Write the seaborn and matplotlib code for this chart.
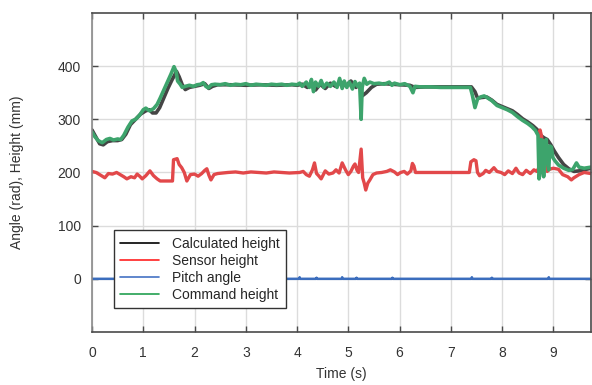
import numpy as np
import pandas as pd
import matplotlib
matplotlib.use("Agg")
import matplotlib.pyplot as plt
import seaborn as sns

# ---------------- data ----------------
cmd_t = [0.00,0.05,0.12,0.20,0.28,0.35,0.42,0.50,0.56,0.62,0.70,0.78,0.85,0.93,1.00,1.05,1.12,1.20,1.27,1.33,1.40,1.47,1.54,1.60,1.64,1.67,1.72,1.76,1.82,1.90,1.98,2.05,2.12,2.17,2.22,2.27,2.33,2.40,2.50,2.60,2.70,2.80,2.90,3.00,3.10,3.20,3.30,3.40,3.50,3.60,3.70,3.80,3.90,4.00,4.05,4.10,4.18,4.24,4.28,4.32,4.36,4.42,4.47,4.52,4.58,4.65,4.72,4.78,4.83,4.88,4.92,4.97,5.02,5.08,5.13,5.18,5.22,5.25,5.27,5.31,5.36,5.42,5.50,5.60,5.70,5.80,5.85,5.90,6.00,6.10,6.20,6.26,6.30,6.40,6.60,6.80,7.00,7.20,7.38,7.42,7.47,7.52,7.58,7.65,7.72,7.80,7.90,8.00,8.10,8.20,8.30,8.40,8.50,8.58,8.65,8.70,8.72,8.74,8.76,8.79,8.81,8.83,8.86,8.89,8.91,8.93,8.96,8.99,9.03,9.10,9.20,9.30,9.38,9.45,9.50,9.60,9.73]
cmd_v = [276,268,260,256,262,264,261,263,262,270,285,297,300,308,318,321,316,320,328,340,355,370,385,399,390,372,366,360,362,364,362,365,366,369,362,359,365,366,365,367,364,366,365,367,364,366,365,364,366,365,366,364,366,365,368,362,370,360,375,352,370,362,373,360,368,362,370,360,377,358,372,360,370,357,371,362,368,300,360,377,366,370,367,368,366,370,364,368,365,367,362,350,362,361,361,360,360,360,360,345,322,338,342,344,340,335,326,322,318,313,305,298,292,286,279,270,188,200,262,260,192,250,262,215,205,250,248,228,222,214,208,204,206,218,210,208,210]

calc_t = [0.00,0.08,0.15,0.22,0.30,0.40,0.50,0.58,0.66,0.75,0.85,0.95,1.05,1.12,1.18,1.25,1.32,1.40,1.48,1.56,1.65,1.70,1.76,1.82,1.90,2.00,2.10,2.20,2.28,2.35,2.45,2.70,3.00,3.30,3.60,3.90,4.00,4.10,4.20,4.30,4.36,4.45,4.55,4.65,4.75,4.85,4.95,5.05,5.15,5.22,5.27,5.35,5.45,5.55,5.70,5.85,6.00,6.20,6.30,6.50,7.40,7.47,7.52,7.60,7.70,7.80,7.90,8.00,8.10,8.20,8.30,8.40,8.50,8.60,8.68,8.75,8.82,8.88,8.95,9.02,9.10,9.20,9.30,9.40,9.50,9.60,9.73]
calc_v = [280,266,254,252,258,260,260,262,272,290,300,310,316,318,312,312,322,340,358,374,390,380,365,356,360,362,364,367,358,362,365,365,364,365,364,365,364,366,360,365,355,366,358,368,362,370,363,372,360,366,344,350,360,366,367,366,365,364,360,361,361,352,340,341,342,336,328,324,320,316,309,301,295,288,281,270,265,262,252,240,228,215,207,202,203,205,208]

sens_t = [0.00,0.08,0.15,0.25,0.32,0.40,0.48,0.55,0.62,0.68,0.76,0.83,0.88,0.93,0.98,1.05,1.13,1.20,1.27,1.33,1.45,1.57,1.59,1.66,1.70,1.75,1.80,1.85,1.92,2.00,2.07,2.14,2.20,2.24,2.28,2.32,2.38,2.45,2.55,2.65,2.80,2.95,3.10,3.25,3.40,3.55,3.70,3.85,4.05,4.12,4.18,4.24,4.30,4.34,4.38,4.42,4.47,4.55,4.62,4.70,4.76,4.82,4.88,4.95,5.00,5.05,5.10,5.13,5.17,5.20,5.25,5.28,5.31,5.34,5.38,5.42,5.48,5.55,5.65,5.75,5.82,5.90,5.96,6.02,6.09,6.15,6.22,6.25,6.28,6.31,7.36,7.39,7.45,7.49,7.52,7.56,7.63,7.68,7.75,7.84,7.90,7.98,8.05,8.12,8.20,8.27,8.33,8.40,8.47,8.55,8.62,8.68,8.72,8.74,8.77,8.79,8.82,8.85,8.88,8.92,9.00,9.10,9.18,9.28,9.35,9.40,9.50,9.60,9.73]
sens_v = [202,200,196,190,198,197,200,196,192,188,192,190,197,193,188,194,203,194,188,184,184,184,224,226,215,209,200,184,196,197,193,198,204,207,195,186,196,198,199,200,201,199,201,200,199,201,200,199,200,202,196,193,205,218,198,194,188,203,197,199,205,199,218,204,196,202,212,216,204,200,244,190,180,167,180,186,196,199,200,202,205,201,196,200,202,197,203,217,212,200,200,220,224,222,200,194,198,204,200,209,202,200,196,203,198,208,199,196,204,198,205,202,210,280,268,205,255,250,202,206,208,206,196,192,186,190,196,200,198]

pitch_t = [0.00,4.04,4.05,4.06,4.37,4.38,4.39,4.87,4.88,4.89,5.15,5.16,5.17,5.85,5.86,5.87,7.40,7.41,7.42,7.79,7.80,7.81,8.90,8.91,8.92,9.73]
pitch_v = [0,0,3,0,0,2,0,0,3,0,0,2,0,0,2,0,0,3,0,0,2,0,0,3,0,0]

labels = ["Calculated height", "Sensor height", "Pitch angle", "Command height"]
x_ticks = [0,1,2,3,4,5,6,7,8,9]
y_ticks = [0,100,200,300,400]

# ---------------- plot ----------------
sns.set_theme(style="white")
plt.rcParams['font.family'] = ['Liberation Sans', 'DejaVu Sans']

fig = plt.figure(figsize=(5.92, 3.85), dpi=100)
ax = fig.add_axes([0.1554, 0.1377, 0.8426, 0.8286])

c_calc = "#454545"
c_sens = "#E2484A"
c_pitch = "#3B6DBD"
c_cmd = "#3DA46C"

sns.lineplot(x=calc_t, y=calc_v, ax=ax, color=c_calc, lw=2.6, estimator=None, sort=False)
sns.lineplot(x=sens_t, y=sens_v, ax=ax, color=c_sens, lw=2.4, estimator=None, sort=False)
sns.lineplot(x=pitch_t, y=pitch_v, ax=ax, color=c_pitch, lw=1.8, estimator=None, sort=False)
sns.lineplot(x=cmd_t, y=cmd_v, ax=ax, color=c_cmd, lw=2.6, estimator=None, sort=False)

ax.set_xlim(0, 9.73)
ax.set_ylim(-100, 500)
ax.set_xticks(x_ticks)
ax.set_yticks(y_ticks)
ax.grid(True, color="#dcdcdc", lw=1)
ax.set_axisbelow(True)
for s in ax.spines.values():
    s.set_visible(True)
    s.set_color("#4a4a4a")
    s.set_linewidth(1.2)
ax.spines['left'].set_color("#8a8a8a")
ax.tick_params(direction="in", length=4, width=1, colors="#4a4a4a",
               labelcolor="#333333", labelsize=10, top=True, right=True,
               left=True, bottom=True)
ax.tick_params(axis="x", pad=10)
ax.tick_params(axis="y", pad=8)
ax.set_xlabel("Time (s)", fontsize=10, color="#333333", labelpad=5)
ax.set_ylabel("Angle (rad), Height (mm)", fontsize=10, color="#333333", labelpad=24)

from matplotlib.lines import Line2D
handles = [Line2D([], [], color=c, lw=1.2) for c in ["#000000", "#FF2020", "#4472C4", "#22A050"]]
leg = ax.legend(handles, labels, loc="lower left", bbox_to_anchor=(0.044, 0.075),
                fontsize=10, frameon=True, fancybox=False, handlelength=2.8,
                labelspacing=0.22, borderpad=0.45, handletextpad=0.9,
                edgecolor="#333333", framealpha=1, borderaxespad=0)
leg.get_frame().set_linewidth(1.0)

fig.savefig("out.png", dpi=100)
